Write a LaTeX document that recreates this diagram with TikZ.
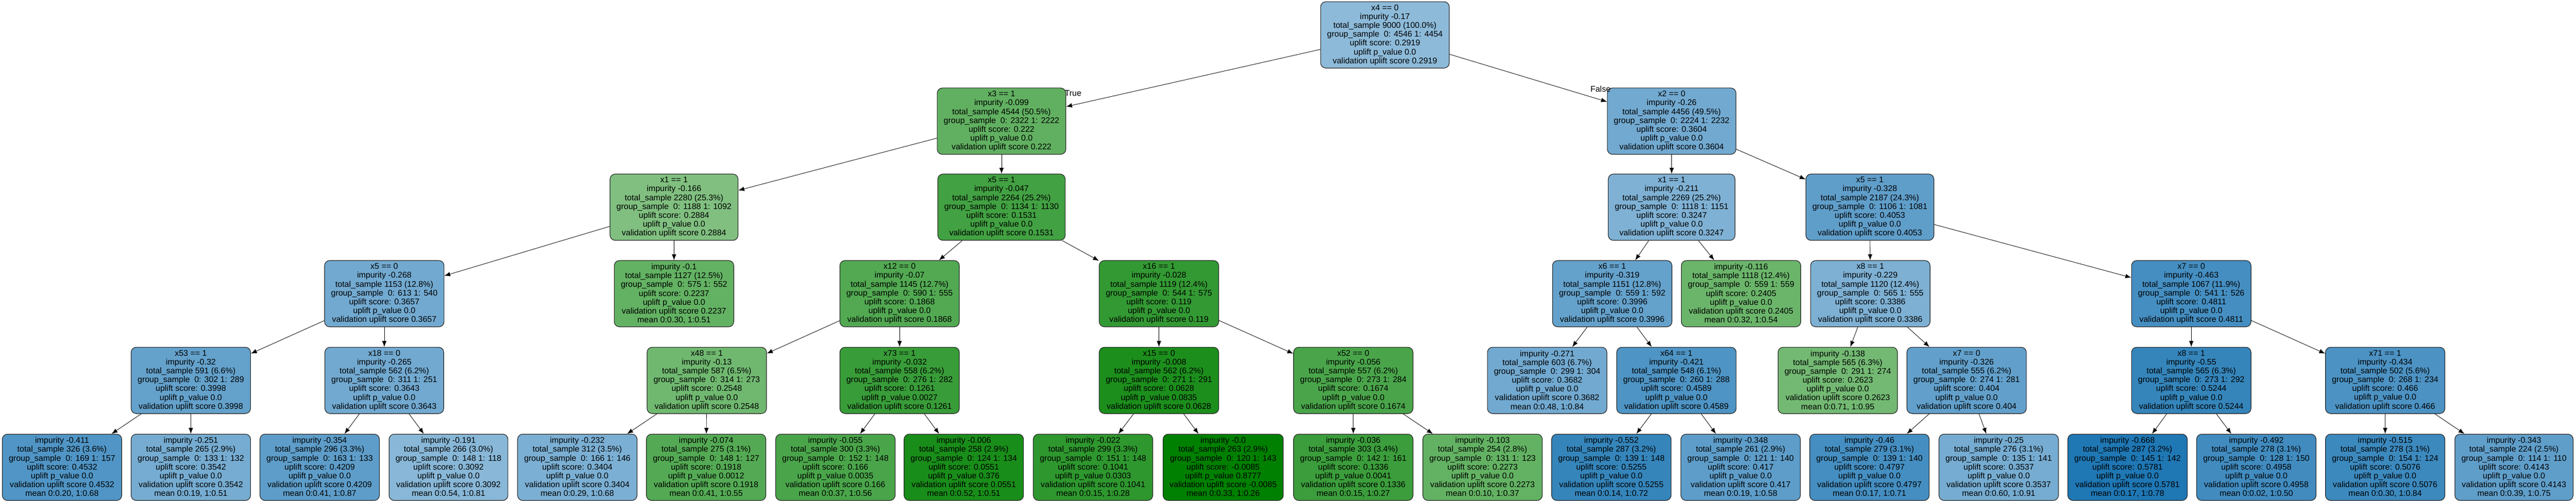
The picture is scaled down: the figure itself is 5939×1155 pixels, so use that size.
\documentclass[tikz,border=0pt]{standalone}
\usepackage{fontspec}
\setmainfont{Liberation Sans}
\usetikzlibrary{arrows.meta}
\definecolor{upblue}{RGB}{31,119,180}
\definecolor{upgreen}{RGB}{0,128,0}
\tikzset{
  treebox/.style={draw=black!85, line width=0.7pt, rounded corners=6pt, align=center,
    inner xsep=7.5pt, inner ysep=0pt, minimum height=76.5pt, font=\fontsize{9.5}{10.2}\selectfont},
  bluebox/.style={treebox, fill=upblue!#1!white},
  greenbox/.style={treebox, fill=upgreen!#1!white},
  link/.style={-{Latex[length=6.8pt,width=5.2pt]}, line width=0.5pt},
  branch/.style={inner sep=0pt, font=\fontsize{9.5}{10.2}\selectfont}
}
\begin{document}
\begin{tikzpicture}[x=0.5pt,y=-0.5pt]

\useasboundingbox (0,0) rectangle (5939,1155);

% level 0 and 1
\node[bluebox=51] (root) at (3193,80.5) {x4 == 0\\impurity -0.17\\total\_sample 9000 (100.0\%)\\group\_sample~ 0: 4546 1: 4454\\uplift score: 0.2919\\uplift p\_value 0.0\\validation uplift score 0.2919};
\node[greenbox=62] (x3) at (2309,279.5) {x3 == 1\\impurity -0.099\\total\_sample 4544 (50.5\%)\\group\_sample~ 0: 2322 1: 2222\\uplift score: 0.222\\uplift p\_value 0.0\\validation uplift score 0.222};
\node[bluebox=63] (x2) at (3854,279.5) {x2 == 0\\impurity -0.26\\total\_sample 4456 (49.5\%)\\group\_sample~ 0: 2224 1: 2232\\uplift score: 0.3604\\uplift p\_value 0.0\\validation uplift score 0.3604};
\node[branch] (truelbl) at (2474,215) {True};
\node[branch] (falselbl) at (3690,205) {False};

% level 2
\node[greenbox=50] (x1a) at (1554,478) {x1 == 1\\impurity -0.166\\total\_sample 2280 (25.3\%)\\group\_sample~ 0: 1188 1: 1092\\uplift score: 0.2884\\uplift p\_value 0.0\\validation uplift score 0.2884};
\node[greenbox=74] (x5a) at (2309,478) {x5 == 1\\impurity -0.047\\total\_sample 2264 (25.2\%)\\group\_sample~ 0: 1134 1: 1130\\uplift score: 0.1531\\uplift p\_value 0.0\\validation uplift score 0.1531};
\node[bluebox=57] (x1b) at (3854,478) {x1 == 1\\impurity -0.211\\total\_sample 2269 (25.2\%)\\group\_sample~ 0: 1118 1: 1151\\uplift score: 0.3247\\uplift p\_value 0.0\\validation uplift score 0.3247};
\node[bluebox=71] (x5b) at (4311,478) {x5 == 1\\impurity -0.328\\total\_sample 2187 (24.3\%)\\group\_sample~ 0: 1106 1: 1081\\uplift score: 0.4053\\uplift p\_value 0.0\\validation uplift score 0.4053};

% level 3
\node[bluebox=63] (x5c) at (886,677.5) {x5 == 0\\impurity -0.268\\total\_sample 1153 (12.8\%)\\group\_sample~ 0: 613 1: 540\\uplift score: 0.3657\\uplift p\_value 0.0\\validation uplift score 0.3657};
\node[greenbox=61] (leafa) at (1554,677.5) {impurity -0.1\\total\_sample 1127 (12.5\%)\\group\_sample~ 0: 575 1: 552\\uplift score: 0.2237\\uplift p\_value 0.0\\validation uplift score 0.2237\\mean 0:0.30, 1:0.51};
\node[greenbox=68] (x12) at (2074,677.5) {x12 == 0\\impurity -0.07\\total\_sample 1145 (12.7\%)\\group\_sample~ 0: 590 1: 555\\uplift score: 0.1868\\uplift p\_value 0.0\\validation uplift score 0.1868};
\node[greenbox=80] (x16) at (2672,677.5) {x16 == 1\\impurity -0.028\\total\_sample 1119 (12.4\%)\\group\_sample~ 0: 544 1: 575\\uplift score: 0.119\\uplift p\_value 0.0\\validation uplift score 0.119};
\node[bluebox=69] (x6) at (3717,677.5) {x6 == 1\\impurity -0.319\\total\_sample 1151 (12.8\%)\\group\_sample~ 0: 559 1: 592\\uplift score: 0.3996\\uplift p\_value 0.0\\validation uplift score 0.3996};
\node[greenbox=58] (leafb) at (4014,677.5) {impurity -0.116\\total\_sample 1118 (12.4\%)\\group\_sample~ 0: 559 1: 559\\uplift score: 0.2405\\uplift p\_value 0.0\\validation uplift score 0.2405\\mean 0:0.32, 1:0.54};
\node[bluebox=58] (x8a) at (4312,677.5) {x8 == 1\\impurity -0.229\\total\_sample 1120 (12.4\%)\\group\_sample~ 0: 565 1: 555\\uplift score: 0.3386\\uplift p\_value 0.0\\validation uplift score 0.3386};
\node[bluebox=83] (x7a) at (5052,677.5) {x7 == 0\\impurity -0.463\\total\_sample 1067 (11.9\%)\\group\_sample~ 0: 541 1: 526\\uplift score: 0.4811\\uplift p\_value 0.0\\validation uplift score 0.4811};

% level 4
\node[bluebox=69] (x53) at (440,877.5) {x53 == 1\\impurity -0.32\\total\_sample 591 (6.6\%)\\group\_sample~ 0: 302 1: 289\\uplift score: 0.3998\\uplift p\_value 0.0\\validation uplift score 0.3998};
\node[bluebox=63] (x18) at (886,877.5) {x18 == 0\\impurity -0.265\\total\_sample 562 (6.2\%)\\group\_sample~ 0: 311 1: 251\\uplift score: 0.3643\\uplift p\_value 0.0\\validation uplift score 0.3643};
\node[greenbox=56] (x48) at (1629.5,877.5) {x48 == 1\\impurity -0.13\\total\_sample 587 (6.5\%)\\group\_sample~ 0: 314 1: 273\\uplift score: 0.2548\\uplift p\_value 0.0\\validation uplift score 0.2548};
\node[greenbox=78] (x73) at (2074,877.5) {x73 == 1\\impurity -0.032\\total\_sample 558 (6.2\%)\\group\_sample~ 0: 276 1: 282\\uplift score: 0.1261\\uplift p\_value 0.0027\\validation uplift score 0.1261};
\node[greenbox=89] (x15) at (2672,877.5) {x15 == 0\\impurity -0.008\\total\_sample 562 (6.2\%)\\group\_sample~ 0: 271 1: 291\\uplift score: 0.0628\\uplift p\_value 0.0835\\validation uplift score 0.0628};
\node[greenbox=71] (x52) at (3120,877.5) {x52 == 0\\impurity -0.056\\total\_sample 557 (6.2\%)\\group\_sample~ 0: 273 1: 284\\uplift score: 0.1674\\uplift p\_value 0.0\\validation uplift score 0.1674};
\node[bluebox=63] (leafc) at (3567,877.5) {impurity -0.271\\total\_sample 603 (6.7\%)\\group\_sample~ 0: 299 1: 304\\uplift score: 0.3682\\uplift p\_value 0.0\\validation uplift score 0.3682\\mean 0:0.48, 1:0.84};
\node[bluebox=79] (x64) at (3865,877.5) {x64 == 1\\impurity -0.421\\total\_sample 548 (6.1\%)\\group\_sample~ 0: 260 1: 288\\uplift score: 0.4589\\uplift p\_value 0.0\\validation uplift score 0.4589};
\node[greenbox=55] (leafd) at (4237,877.5) {impurity -0.138\\total\_sample 565 (6.3\%)\\group\_sample~ 0: 291 1: 274\\uplift score: 0.2623\\uplift p\_value 0.0\\validation uplift score 0.2623\\mean 0:0.71, 1:0.95};
\node[bluebox=70] (x7b) at (4534,877.5) {x7 == 0\\impurity -0.326\\total\_sample 555 (6.2\%)\\group\_sample~ 0: 274 1: 281\\uplift score: 0.404\\uplift p\_value 0.0\\validation uplift score 0.404};
\node[bluebox=90] (x8b) at (5052,877.5) {x8 == 1\\impurity -0.55\\total\_sample 565 (6.3\%)\\group\_sample~ 0: 273 1: 292\\uplift score: 0.5244\\uplift p\_value 0.0\\validation uplift score 0.5244};
\node[bluebox=80] (x71) at (5499,877.5) {x71 == 1\\impurity -0.434\\total\_sample 502 (5.6\%)\\group\_sample~ 0: 268 1: 234\\uplift score: 0.466\\uplift p\_value 0.0\\validation uplift score 0.466};

% level 5, leaves
\node[bluebox=78] (l1) at (143,1078) {impurity -0.411\\total\_sample 326 (3.6\%)\\group\_sample~ 0: 169 1: 157\\uplift score: 0.4532\\uplift p\_value 0.0\\validation uplift score 0.4532\\mean 0:0.20, 1:0.68};
\node[bluebox=61] (l2) at (440,1078) {impurity -0.251\\total\_sample 265 (2.9\%)\\group\_sample~ 0: 133 1: 132\\uplift score: 0.3542\\uplift p\_value 0.0\\validation uplift score 0.3542\\mean 0:0.19, 1:0.51};
\node[bluebox=72] (l3) at (737,1078) {impurity -0.354\\total\_sample 296 (3.3\%)\\group\_sample~ 0: 163 1: 133\\uplift score: 0.4209\\uplift p\_value 0.0\\validation uplift score 0.4209\\mean 0:0.41, 1:0.87};
\node[bluebox=53] (l4) at (1034,1078) {impurity -0.191\\total\_sample 266 (3.0\%)\\group\_sample~ 0: 148 1: 118\\uplift score: 0.3092\\uplift p\_value 0.0\\validation uplift score 0.3092\\mean 0:0.54, 1:0.81};
\node[bluebox=59] (l5) at (1331,1078) {impurity -0.232\\total\_sample 312 (3.5\%)\\group\_sample~ 0: 166 1: 146\\uplift score: 0.3404\\uplift p\_value 0.0\\validation uplift score 0.3404\\mean 0:0.29, 1:0.68};
\node[greenbox=67] (l6) at (1628,1078) {impurity -0.074\\total\_sample 275 (3.1\%)\\group\_sample~ 0: 148 1: 127\\uplift score: 0.1918\\uplift p\_value 0.0012\\validation uplift score 0.1918\\mean 0:0.41, 1:0.55};
\node[greenbox=71] (l7) at (1926,1078) {impurity -0.055\\total\_sample 300 (3.3\%)\\group\_sample~ 0: 152 1: 148\\uplift score: 0.166\\uplift p\_value 0.0035\\validation uplift score 0.166\\mean 0:0.37, 1:0.56};
\node[greenbox=90] (l8) at (2222,1078) {impurity -0.006\\total\_sample 258 (2.9\%)\\group\_sample~ 0: 124 1: 134\\uplift score: 0.0551\\uplift p\_value 0.376\\validation uplift score 0.0551\\mean 0:0.52, 1:0.51};
\node[greenbox=82] (l9) at (2520,1078) {impurity -0.022\\total\_sample 299 (3.3\%)\\group\_sample~ 0: 151 1: 148\\uplift score: 0.1041\\uplift p\_value 0.0303\\validation uplift score 0.1041\\mean 0:0.15, 1:0.28};
\node[greenbox=100] (l10) at (2820,1078) {impurity -0.0\\total\_sample 263 (2.9\%)\\group\_sample~ 0: 120 1: 143\\uplift score: -0.0085\\uplift p\_value 0.8777\\validation uplift score -0.0085\\mean 0:0.33, 1:0.26};
\node[greenbox=77] (l11) at (3120,1078) {impurity -0.036\\total\_sample 303 (3.4\%)\\group\_sample~ 0: 142 1: 161\\uplift score: 0.1336\\uplift p\_value 0.0041\\validation uplift score 0.1336\\mean 0:0.15, 1:0.27};
\node[greenbox=61] (l12) at (3418,1078) {impurity -0.103\\total\_sample 254 (2.8\%)\\group\_sample~ 0: 131 1: 123\\uplift score: 0.2273\\uplift p\_value 0.0\\validation uplift score 0.2273\\mean 0:0.10, 1:0.37};
\node[bluebox=90] (l13) at (3715,1078) {impurity -0.552\\total\_sample 287 (3.2\%)\\group\_sample~ 0: 139 1: 148\\uplift score: 0.5255\\uplift p\_value 0.0\\validation uplift score 0.5255\\mean 0:0.14, 1:0.72};
\node[bluebox=72] (l14) at (4013,1078) {impurity -0.348\\total\_sample 261 (2.9\%)\\group\_sample~ 0: 121 1: 140\\uplift score: 0.417\\uplift p\_value 0.0\\validation uplift score 0.417\\mean 0:0.19, 1:0.58};
\node[bluebox=83] (l15) at (4310,1078) {impurity -0.46\\total\_sample 279 (3.1\%)\\group\_sample~ 0: 139 1: 140\\uplift score: 0.4797\\uplift p\_value 0.0\\validation uplift score 0.4797\\mean 0:0.17, 1:0.71};
\node[bluebox=61] (l16) at (4608,1078) {impurity -0.25\\total\_sample 276 (3.1\%)\\group\_sample~ 0: 135 1: 141\\uplift score: 0.3537\\uplift p\_value 0.0\\validation uplift score 0.3537\\mean 0:0.60, 1:0.91};
\node[bluebox=100] (l17) at (4905,1078) {impurity -0.668\\total\_sample 287 (3.2\%)\\group\_sample~ 0: 145 1: 142\\uplift score: 0.5781\\uplift p\_value 0.0\\validation uplift score 0.5781\\mean 0:0.17, 1:0.78};
\node[bluebox=85] (l18) at (5202,1078) {impurity -0.492\\total\_sample 278 (3.1\%)\\group\_sample~ 0: 128 1: 150\\uplift score: 0.4958\\uplift p\_value 0.0\\validation uplift score 0.4958\\mean 0:0.02, 1:0.50};
\node[bluebox=87] (l19) at (5499,1078) {impurity -0.515\\total\_sample 278 (3.1\%)\\group\_sample~ 0: 154 1: 124\\uplift score: 0.5076\\uplift p\_value 0.0\\validation uplift score 0.5076\\mean 0:0.30, 1:0.84};
\node[bluebox=71] (l20) at (5796,1078) {impurity -0.343\\total\_sample 224 (2.5\%)\\group\_sample~ 0: 114 1: 110\\uplift score: 0.4143\\uplift p\_value 0.0\\validation uplift score 0.4143\\mean 0:0.39, 1:0.75};

% branches
\draw[link] (root) -- (x3);
\draw[link] (root) -- (x2);
\draw[link] (x3) -- (x1a);
\draw[link] (x3) -- (x5a);
\draw[link] (x2) -- (x1b);
\draw[link] (x2) -- (x5b);

\draw[link] (x1a) -- (x5c);
\draw[link] (x1a) -- (leafa);
\draw[link] (x5a) -- (x12);
\draw[link] (x5a) -- (x16);
\draw[link] (x1b) -- (x6);
\draw[link] (x1b) -- (leafb);
\draw[link] (x5b) -- (x8a);
\draw[link] (x5b) -- (x7a);

\draw[link] (x5c) -- (x53);
\draw[link] (x5c) -- (x18);
\draw[link] (x12) -- (x48);
\draw[link] (x12) -- (x73);
\draw[link] (x16) -- (x15);
\draw[link] (x16) -- (x52);
\draw[link] (x6) -- (leafc);
\draw[link] (x6) -- (x64);
\draw[link] (x8a) -- (leafd);
\draw[link] (x8a) -- (x7b);
\draw[link] (x7a) -- (x8b);
\draw[link] (x7a) -- (x71);

\draw[link] (x53) -- (l1);
\draw[link] (x53) -- (l2);
\draw[link] (x18) -- (l3);
\draw[link] (x18) -- (l4);
\draw[link] (x48) -- (l5);
\draw[link] (x48) -- (l6);
\draw[link] (x73) -- (l7);
\draw[link] (x73) -- (l8);
\draw[link] (x15) -- (l9);
\draw[link] (x15) -- (l10);
\draw[link] (x52) -- (l11);
\draw[link] (x52) -- (l12);
\draw[link] (x64) -- (l13);
\draw[link] (x64) -- (l14);
\draw[link] (x7b) -- (l15);
\draw[link] (x7b) -- (l16);
\draw[link] (x8b) -- (l17);
\draw[link] (x8b) -- (l18);
\draw[link] (x71) -- (l19);
\draw[link] (x71) -- (l20);

\end{tikzpicture}
\end{document}
